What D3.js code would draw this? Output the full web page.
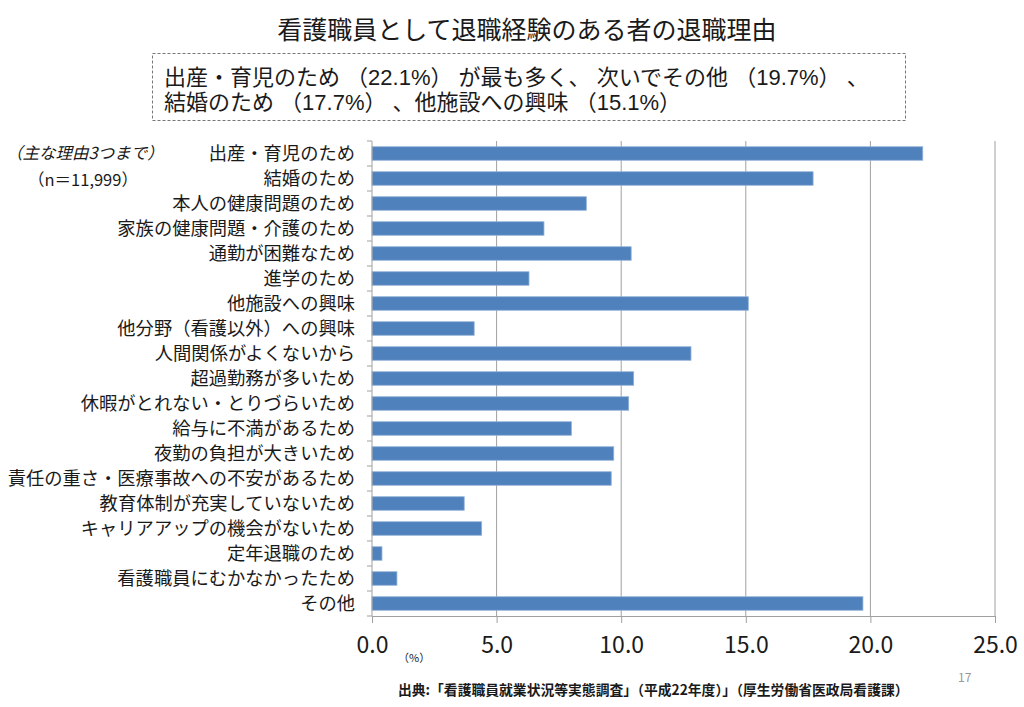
<!DOCTYPE html>
<html>
<head>
<meta charset="utf-8">
<script src="https://cdn.jsdelivr.net/npm/d3@7"></script>
<style>
  body { margin: 0; background: #fff; }
  text { font-family: "Noto Sans CJK JP", sans-serif; fill: #1a1a1a; }
  .num { font-family: "Liberation Sans Narrow", "Noto Sans CJK JP", sans-serif; }
  .note { font-family: "Liberation Sans", "Noto Sans CJK JP", sans-serif; }
</style>
</head>
<body>
<svg id="chart" width="1024" height="707"></svg>
<script>
// categories (top to bottom) and values in %
const reasons = [
  '出産・育児のため', '結婚のため', '本人の健康問題のため', '家族の健康問題・介護のため',
  '通勤が困難なため', '進学のため', '他施設への興味', '他分野（看護以外）への興味',
  '人間関係がよくないから', '超過勤務が多いため', '休暇がとれない・とりづらいため',
  '給与に不満があるため', '夜勤の負担が大きいため', '責任の重さ・医療事故への不安があるため',
  '教育体制が充実していないため', 'キャリアアップの機会がないため', '定年退職のため',
  '看護職員にむかなかったため', 'その他'
]
const shares = [22.1, 17.7, 8.6, 6.9, 10.4, 6.3, 15.1, 4.1, 12.8, 10.5, 10.3, 8.0, 9.7, 9.6, 3.7, 4.4, 0.4, 1.0, 19.7]
const xTicks = [0, 5, 10, 15, 20, 25]

const title = '看護職員として退職経験のある者の退職理由'
const noteLines = [
  '出産・育児のため （22.1%） が最も多く、 次いでその他 （19.7%） 、',
  '結婚のため （17.7%） 、他施設への興味 （15.1%）'
]
const source = '出典:「看護職員就業状況等実態調査」（平成22年度）」（厚生労働省医政局看護課）'

const config = {
  margin: {top: 141, left: 372, right: 29, bottom: 91},
  width: 1024, height: 707,
  barColor: '#4f81bd', gridColor: '#a0a0a0'
}

const svg = d3.select('#chart')
const m = config.margin
const plotW = config.width - m.left - m.right
const plotH = config.height - m.top - m.bottom

// title
svg.append('text')
  .attr('x', 527).attr('y', 39)
  .attr('text-anchor', 'middle')
  .style('font-size', '25px')
  .text(title)

// dashed summary box
svg.append('rect')
  .attr('x', 152.5).attr('y', 53.5)
  .attr('width', 753).attr('height', 67)
  .attr('fill', 'none')
  .attr('stroke', '#777')
  .attr('stroke-dasharray', '3,2')

svg.selectAll('.note')
  .data(noteLines)
  .join('text')
  .attr('class', 'note')
  .attr('x', 164)
  .attr('y', (d, i) => 85 + i * 25)
  .style('font-size', '22px')
  .text(d => d)

// sample notes
svg.append('text')
  .attr('x', 6).attr('y', 159)
  .style('font-size', '16.5px')
  .style('font-style', 'italic')
  .text('（主な理由3つまで）')
svg.append('text')
  .attr('x', 28).attr('y', 186)
  .style('font-size', '16.5px')
  .text('（n＝11,999）')

const g = svg.append('g').attr('transform', `translate(${m.left},${m.top})`)

const xScale = d3.scaleLinear().domain([0, 25]).range([0, plotW])
const yScale = d3.scaleBand().domain(reasons).range([0, plotH]).paddingInner(0.46).paddingOuter(0.23)

// gridlines
g.selectAll('.grid')
  .data(xTicks.slice(1))
  .join('line')
  .attr('class', 'grid')
  .attr('x1', d => xScale(d)).attr('x2', d => xScale(d))
  .attr('y1', 0).attr('y2', plotH)
  .attr('stroke', config.gridColor)

// bars
g.selectAll('.bar')
  .data(reasons)
  .join('rect')
  .attr('class', 'bar')
  .attr('x', 0)
  .attr('y', d => yScale(d))
  .attr('width', (d, i) => xScale(shares[i]))
  .attr('height', yScale.bandwidth())
  .attr('fill', config.barColor)
  .attr('stroke', '#8fb0d8')
  .attr('stroke-width', 0.8)

// left axis with ticks on category boundaries
const step = yScale.step()
const bounds = d3.range(reasons.length + 1).map(i => i * step)
g.append('line')
  .attr('x1', 0).attr('x2', 0).attr('y1', 0).attr('y2', plotH)
  .attr('stroke', config.gridColor)
g.selectAll('.ytick')
  .data(bounds)
  .join('line')
  .attr('class', 'ytick')
  .attr('x1', -5).attr('x2', 0)
  .attr('y1', d => d).attr('y2', d => d)
  .attr('stroke', config.gridColor)

// category labels
g.selectAll('.cat')
  .data(reasons)
  .join('text')
  .attr('class', 'cat')
  .attr('x', -17)
  .attr('y', d => yScale(d) + yScale.bandwidth() / 2)
  .attr('dy', '0.35em')
  .attr('text-anchor', 'end')
  .style('font-size', '18.3px')
  .text(d => d)

// bottom axis
const xAxis = d3.axisBottom(xScale)
  .tickValues(xTicks)
  .tickFormat(d3.format('.1f'))
  .tickSize(7)
  .tickPadding(14)

const xAxisG = g.append('g')
  .attr('transform', `translate(0,${plotH})`)
  .call(xAxis)
xAxisG.select('.domain').attr('stroke', config.gridColor)
xAxisG.selectAll('.tick line').attr('stroke', config.gridColor)
xAxisG.selectAll('.tick text')
  .attr('class', 'num')
  .style('font-size', '23px')
  .attr('fill', '#1a1a1a')

svg.append('text')
  .attr('x', 398).attr('y', 662)
  .style('font-size', '11px')
  .text('（%）')

// source and page number
svg.append('text')
  .attr('x', 398).attr('y', 695)
  .style('font-size', '13.8px')
  .style('font-weight', 'bold')
  .attr('fill', '#333')
  .text(source)

svg.append('text')
  .attr('class', 'num')
  .attr('x', 958).attr('y', 682)
  .style('font-size', '12px')
  .style('fill', '#999')
  .text('17')
</script>
</body>
</html>
